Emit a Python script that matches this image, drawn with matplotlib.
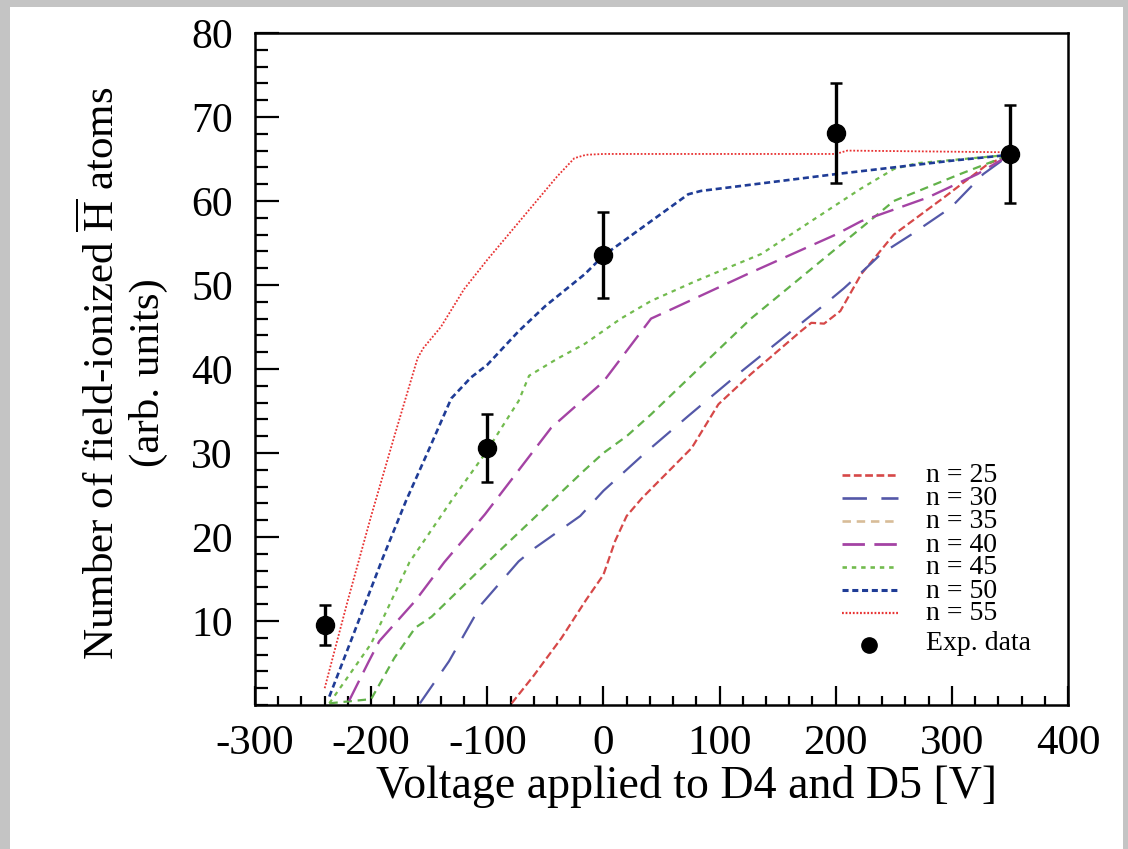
import matplotlib
matplotlib.use("Agg")
import matplotlib.pyplot as plt
from matplotlib.patches import Rectangle
from matplotlib.lines import Line2D

plt.rcParams['font.family'] = ['Liberation Serif', 'DejaVu Serif']
plt.rcParams['mathtext.fontset'] = 'custom'
plt.rcParams['mathtext.rm'] = 'Liberation Serif'
plt.rcParams['mathtext.it'] = 'Liberation Serif:italic'

# ---------------- data ----------------
exp_x = [-240, -100, 0, 200, 350]
exp_y = [9.5, 30.6, 53.6, 68.1, 65.6]
exp_err = [2.4, 4.0, 5.1, 6.0, 5.8]

n25_x = [-79, -60, -36, -15, 0, 10, 20, 33, 76, 99, 127, 170, 179, 190, 204, 222, 250, 293, 331, 350]
n25_y = [0.2, 3.5, 8, 12.5, 15.5, 19.5, 22.5, 24.6, 30.6, 35.8, 39.4, 44.5, 45.5, 45.4, 46.9, 51.3, 56, 60.4, 64.4, 65.5]

n30_x = [-158, -133, -105, -73, -59, -20, 0, 35, 73, 116, 187, 207, 230, 239, 265, 299, 327, 350]
n30_y = [0.2, 5.2, 12, 17.1, 18.7, 22.5, 25.5, 29.9, 34.4, 39.4, 47.3, 49.6, 52.5, 53.7, 56, 59.2, 63.2, 65.5]

n35_x = [-236, -200, -180, -162, -148, -99, -16, 0, 20, 41, 127, 222, 250, 307, 350]
n35_y = [0.2, 0.7, 5.6, 9.2, 10.5, 17.1, 28, 30, 32, 34.6, 46, 56.8, 60, 63.2, 65.5]

n40_x = [-219, -202, -193, -162, -137, -102, -45, 0, 41, 60, 124, 200, 222, 279, 322, 350]
n40_y = [0.5, 5.2, 7.6, 12.4, 17, 22.7, 33, 38.5, 46, 47.2, 51.3, 56, 57.6, 60.4, 63.2, 65.5]

n45_x = [-236, -200, -167, -130, -102, -73, -64, -40, -16, 15, 41, 80, 136, 180, 222, 250, 270, 350]
n45_y = [0.2, 7.3, 17, 24.5, 29.9, 36.2, 39.2, 41.2, 43, 46, 48.1, 50.5, 53.7, 57.7, 61.5, 63.8, 64.5, 65.5]

n50_x = [-236, -215, -190, -170, -150, -131, -114, -100, -73, -50, -16, 0, 40, 73, 84, 200, 250, 300, 350]
n50_y = [1, 8.5, 17.5, 24.3, 30.5, 36.5, 39, 40.5, 44.5, 47.5, 51.3, 53.5, 57.5, 60.8, 61.2, 63.2, 64, 64.8, 65.5]

n55_x = [-240, -220, -200, -180, -160, -155, -140, -120, -100, -80, -60, -40, -25, -15, 0, 200, 210, 350]
n55_y = [2, 12.5, 22.5, 32, 41.3, 42.5, 45, 49.5, 53, 56.3, 59.6, 62.9, 65.1, 65.5, 65.6, 65.6, 66, 65.8]

labels = ["n = 25", "n = 30", "n = 35", "n = 40", "n = 45", "n = 50", "n = 55"]
xticks = [-300, -200, -100, 0, 100, 200, 300, 400]
yticks = [10, 20, 30, 40, 50, 60, 70, 80]

# ---------------- style ----------------
W, H = 1128, 849
fig = plt.figure(figsize=(W / 100, H / 100), dpi=100, facecolor='#c4c4c4')
fig.patches.append(Rectangle((10 / W, 0), (1123 - 10) / W, (H - 7) / H,
                             transform=fig.transFigure, facecolor='white',
                             edgecolor='none', zorder=-10))

ax = fig.add_axes([255 / W, 1 - 705 / H, (1068 - 255) / W, (705 - 33) / H])
ax.set_facecolor('white')

curves = [
    (n25_x, n25_y, '#d64848', (3.5, 1.6), 1.6),
    (n30_x, n30_y, '#5458a8', (11, 6.5), 1.6),
    (n35_x, n35_y, '#62b24a', (3.8, 2.6), 1.6),
    (n40_x, n40_y, '#a443a4', (9.5, 4.0), 1.7),
    (n45_x, n45_y, '#72bb4e', (2.0, 2.2), 1.6),
    (n50_x, n50_y, '#1f3c96', (2.3, 1.4), 1.9),
    (n55_x, n55_y, '#e83232', (1.0, 1.0), 1.3),
]
legend_colors = ['#d64848', '#5458a8', '#d8bc98', '#a443a4', '#72bb4e', '#1f3c96', '#e83232']

for (xs, ys, c, d, lw) in curves:
    ax.plot(xs, ys, color=c, lw=lw, dashes=d, zorder=2)

ax.errorbar(exp_x, exp_y, yerr=exp_err, fmt='o', color='black', ms=13,
            elinewidth=2.4, capsize=4, capthick=1.8, zorder=5)

ax.set_xlim(-300, 400)
ax.set_ylim(0, 80)
ax.set_xticks(xticks)
ax.set_xticklabels([str(v) for v in xticks])
ax.set_yticks(yticks)
ax.set_yticklabels([str(v) for v in yticks])
ax.set_xticks(range(-300, 401, 20), minor=True)
ax.set_yticks(range(0, 81, 2), minor=True)

for s in ax.spines.values():
    s.set_linewidth(1.8)

ax.tick_params(axis='both', which='both', direction='in', top=False, right=False,
               width=1.6, labelsize=30)
ax.tick_params(axis='y', which='major', length=17, pad=16)
ax.tick_params(axis='y', which='minor', length=9)
ax.tick_params(axis='x', which='major', length=14, pad=14, labelsize=31)
ax.tick_params(axis='x', which='minor', length=6.5)

ax.set_xlabel('Voltage applied to D4 and D5 [V]', fontsize=33, va='center')
ax.xaxis.set_label_coords((686 - 255) / 813, (705 - 786) / 672)
ax.set_ylabel('Number of field-ionized $\\overline{\\mathrm{H}}$ atoms\n(arb. units)',
              fontsize=31, linespacing=1.22, va='center', ha='center')
ax.yaxis.set_label_coords((124 - 255) / 813, (705 - 373) / 672)

# ---------------- legend (drawn manually) ----------------
def fx(px):
    return px / W

def fy(py):
    return 1 - py / H

row_y = [475, 498, 521, 544, 567, 590, 613]
for (xs, ys, c, d, lw), lc, lab, ry in zip(curves, legend_colors, labels, row_y):
    fig.add_artist(Line2D([fx(842), fx(898)], [fy(ry), fy(ry)], color=lc, lw=lw + 0.3,
                          dashes=tuple(v * lw / (lw + 0.3) for v in d),
                          transform=fig.transFigure))
    fig.text(fx(926), fy(ry + 1), lab, fontsize=20, va='center', ha='left')
fig.add_artist(Line2D([fx(869)], [fy(645)], marker='o', ms=11, color='black',
                      linestyle='none', transform=fig.transFigure))
fig.text(fx(926), fy(644), 'Exp. data', fontsize=20, va='center', ha='left')

fig.savefig('out.png', dpi=100, facecolor=fig.get_facecolor())
